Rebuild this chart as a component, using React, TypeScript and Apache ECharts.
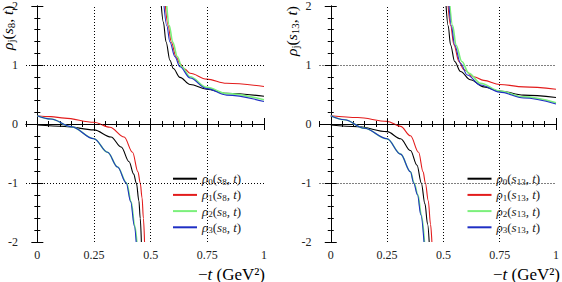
import React, { useEffect, useRef } from 'react';
import * as echarts from 'echarts';

// ---------- data ----------
const gridXLines = [0, 0.25, 0.5, 0.75];
const gridYLines = [-1, 0, 1];
const xTickLabels = [0, 0.25, 0.5, 0.75, 1];
const yTickLabels = [-2, -1, 0, 1, 2];

// panel 1 : s8
const s8Rho0Low = [[0, -0.017], [0.12, -0.04], [0.25, -0.1], [0.325, -0.22], [0.37, -0.39], [0.405, -0.64], [0.425, -0.85], [0.437, -1.0], [0.448, -1.3], [0.454, -1.6], [0.459, -2.0]];
const s8Rho1Low = [[0, 0.14], [0.06, 0.125], [0.12, 0.1], [0.25, 0.03], [0.32, -0.056], [0.383, -0.22], [0.42, -0.48], [0.444, -0.81], [0.454, -1.0], [0.462, -1.25], [0.468, -1.6], [0.473, -2.0]];
const s8Rho2Low = [[0, 0.14], [0.06, 0.084], [0.149, -0.045], [0.25, -0.25], [0.31, -0.48], [0.354, -0.73], [0.394, -1.0], [0.414, -1.32], [0.43, -1.73], [0.439, -2.0]];
const s8Rho3Low = [[0, 0.14], [0.06, 0.084], [0.149, -0.045], [0.25, -0.25], [0.31, -0.48], [0.354, -0.73], [0.392, -1.0], [0.412, -1.32], [0.428, -1.73], [0.436, -2.0]];
const s8Rho0Up = [[0.547, 2.0], [0.556, 1.73], [0.568, 1.39], [0.585, 1.08], [0.6, 0.94], [0.629, 0.79], [0.674, 0.67], [0.747, 0.59], [0.835, 0.52], [1, 0.47]];
const s8Rho1Up = [[0.565, 2.0], [0.577, 1.67], [0.591, 1.39], [0.612, 1.14], [0.63, 1.02], [0.65, 0.93], [0.674, 0.86], [0.747, 0.76], [0.835, 0.69], [1, 0.635]];
const s8Rho2Up = [[0.571, 2.0], [0.582, 1.67], [0.597, 1.39], [0.618, 1.14], [0.637, 0.97], [0.674, 0.8], [0.747, 0.62], [0.835, 0.515], [1, 0.41]];
const s8Rho3Up = [[0.559, 2.0], [0.571, 1.67], [0.585, 1.39], [0.607, 1.14], [0.629, 0.97], [0.674, 0.78], [0.747, 0.6], [0.835, 0.49], [1, 0.38]];

// panel 2 : s13
const s13Rho0Low = [[0, -0.017], [0.12, -0.045], [0.25, -0.13], [0.31, -0.25], [0.354, -0.45], [0.383, -0.7], [0.402, -1.0], [0.418, -1.35], [0.43, -1.7], [0.437, -2.0]];
const s13Rho1Low = [[0, 0.14], [0.12, 0.11], [0.25, 0.045], [0.31, -0.04], [0.354, -0.2], [0.39, -0.48], [0.41, -0.81], [0.42, -1.0], [0.433, -1.3], [0.443, -1.7], [0.449, -2.0]];
const s13Rho2Low = [[0, 0.14], [0.061, 0.073], [0.149, -0.073], [0.25, -0.25], [0.31, -0.51], [0.354, -0.81], [0.37, -1.0], [0.387, -1.2], [0.402, -1.54], [0.416, -2.0]];
const s13Rho3Low = [[0, 0.14], [0.061, 0.073], [0.149, -0.073], [0.25, -0.25], [0.31, -0.51], [0.354, -0.81], [0.368, -1.0], [0.385, -1.2], [0.4, -1.54], [0.414, -2.0]];
const s13Rho0Up = [[0.512, 2.0], [0.521, 1.67], [0.532, 1.34], [0.55, 1.06], [0.576, 0.89], [0.62, 0.75], [0.679, 0.63], [0.75, 0.56], [0.856, 0.49], [1, 0.45]];
const s13Rho1Up = [[0.521, 2.0], [0.532, 1.67], [0.547, 1.34], [0.569, 1.06], [0.591, 0.92], [0.635, 0.8], [0.679, 0.74], [0.75, 0.67], [0.856, 0.63], [1, 0.59]];
const s13Rho2Up = [[0.529, 2.0], [0.541, 1.67], [0.556, 1.34], [0.582, 1.06], [0.613, 0.86], [0.665, 0.69], [0.75, 0.56], [0.856, 0.46], [1, 0.36]];
const s13Rho3Up = [[0.525, 2.0], [0.535, 1.67], [0.55, 1.34], [0.576, 1.03], [0.606, 0.83], [0.665, 0.66], [0.75, 0.54], [0.856, 0.44], [1, 0.34]];

const seriesNames8 = ['r0_8', 'r1_8', 'r2_8', 'r3_8'];
const seriesNames13 = ['r0_13', 'r1_13', 'r2_13', 'r3_13'];
const legendLabels: Record<string, string> = {
  r0_8: '{i|ρ}{s|0}{n|(}{i|s}{s|8}{n|, }{i|t}{n|)}',
  r1_8: '{i|ρ}{s|1}{n|(}{i|s}{s|8}{n|, }{i|t}{n|)}',
  r2_8: '{i|ρ}{s|2}{n|(}{i|s}{s|8}{n|, }{i|t}{n|)}',
  r3_8: '{i|ρ}{s|3}{n|(}{i|s}{s|8}{n|, }{i|t}{n|)}',
  r0_13: '{i|ρ}{s|0}{n|(}{i|s}{s|13}{n|, }{i|t}{n|)}',
  r1_13: '{i|ρ}{s|1}{n|(}{i|s}{s|13}{n|, }{i|t}{n|)}',
  r2_13: '{i|ρ}{s|2}{n|(}{i|s}{s|13}{n|, }{i|t}{n|)}',
  r3_13: '{i|ρ}{s|3}{n|(}{i|s}{s|13}{n|, }{i|t}{n|)}',
};

const colors = ['#000000', '#e31c1c', '#7cf07c', '#1f2fc4'];
const widths = [1.1, 1.1, 1.6, 1.1];

const FONT = 'Times New Roman';

function buildPanel(p: number, lows: number[][][], ups: number[][][], names: string[]) {
  const xi = p * 4;
  const yi = p * 4;
  const series: any[] = [];
  for (let j = 0; j < 4; j++) {
    [lows[j], ups[j]].forEach((d, k) => {
      const s: any = {
        type: 'line',
        name: names[j],
        xAxisIndex: xi,
        yAxisIndex: yi,
        data: d,
        smooth: 0.35,
        smoothMonotone: 'x',
        symbol: 'none',
        showSymbol: false,
        clip: true,
        z: 3 + j,
        lineStyle: { color: colors[j], width: widths[j] },
        itemStyle: { color: colors[j] },
      };
      if (j === 0 && k === 0) {
        s.markLine = {
          silent: true,
          symbol: ['none', 'none'],
          label: { show: false },
          animation: false,
          lineStyle: { color: '#000', width: 1, type: [1, 2] },
          emphasis: { disabled: true },
          data: [
            ...gridXLines.map((v) => ({ xAxis: v })),
            ...gridYLines.map((v) => ({ yAxis: v })),
          ],
        };
      }
      series.push(s);
    });
  }
  return series;
}

const xFmt = (v: number) => {
  const r = Math.round(v * 4);
  if (Math.abs(v * 4 - r) > 1e-6) return '';
  const val = r / 4;
  return xTickLabels.includes(val) ? String(val) : '';
};
const yFmt = (v: number) => {
  const r = Math.round(v);
  if (Math.abs(v - r) > 1e-6) return '';
  return yTickLabels.includes(r) ? String(r) : '';
};

function axesFor(p: number) {
  const xs: any[] = [];
  const ys: any[] = [];
  const lineStyle = { color: '#000', width: 1 };
  const base = { type: 'value', gridIndex: p, min: -0.05, max: 1, splitLine: { show: false } };
  xs.push({ ...base, position: 'bottom', interval: 0.05, axisLine: { show: true, lineStyle }, axisTick: { show: true, inside: true, length: 3, lineStyle }, axisLabel: { show: true, formatter: xFmt, margin: 7, color: '#222', fontFamily: FONT, fontSize: 12 } });
  xs.push({ ...base, position: 'top', interval: 0.05, axisLine: { show: true, lineStyle }, axisTick: { show: true, inside: true, length: 3, lineStyle }, axisLabel: { show: false } });
  xs.push({ ...base, position: 'bottom', axisLine: { show: false }, axisTick: { show: true, inside: true, length: 6, lineStyle, customValues: xTickLabels }, axisLabel: { show: false } });
  xs.push({ ...base, position: 'top', axisLine: { show: false }, axisTick: { show: true, inside: true, length: 6, lineStyle, customValues: xTickLabels }, axisLabel: { show: false } });
  const yb = { type: 'value', gridIndex: p, min: -2, max: 2, splitLine: { show: false } };
  ys.push({ ...yb, position: 'left', interval: 0.2, axisLine: { show: true, lineStyle }, axisTick: { show: true, inside: true, length: 3, lineStyle }, axisLabel: { show: true, formatter: yFmt, margin: 8, color: '#222', fontFamily: FONT, fontSize: 12 } });
  ys.push({ ...yb, position: 'right', interval: 0.2, axisLine: { show: true, lineStyle }, axisTick: { show: true, inside: true, length: 3, lineStyle }, axisLabel: { show: false } });
  ys.push({ ...yb, position: 'left', interval: 1, axisLine: { show: false }, axisTick: { show: true, inside: true, length: 6, lineStyle }, axisLabel: { show: false } });
  ys.push({ ...yb, position: 'right', interval: 1, axisLine: { show: false }, axisTick: { show: true, inside: true, length: 6, lineStyle }, axisLabel: { show: false } });
  return { xs, ys };
}

const legendRich = {
  i: { fontFamily: FONT, fontStyle: 'italic', fontSize: 13, lineHeight: 15, color: '#222' },
  n: { fontFamily: FONT, fontSize: 13, lineHeight: 15, color: '#222' },
  s: { fontFamily: FONT, fontSize: 9, lineHeight: 8, verticalAlign: 'bottom', color: '#222' },
};
const titleRich = {
  i: { fontFamily: FONT, fontStyle: 'italic', fontSize: 15.5, lineHeight: 18, color: '#222' },
  n: { fontFamily: FONT, fontSize: 15.5, lineHeight: 18, color: '#222' },
  s: { fontFamily: FONT, fontSize: 11, lineHeight: 10, verticalAlign: 'bottom', color: '#222' },
};
const xTitleRich = {
  i: { fontFamily: FONT, fontStyle: 'italic', fontSize: 17, lineHeight: 20, color: '#222' },
  n: { fontFamily: FONT, fontSize: 17, lineHeight: 20, color: '#222' },
};

export default function App() {
  const ref = useRef<HTMLDivElement>(null);
  useEffect(() => {
    if (!ref.current) return;
    const chart = echarts.init(ref.current, undefined, { renderer: 'svg' });
    const a0 = axesFor(0);
    const a1 = axesFor(1);
    const legendBase = {
      orient: 'vertical',
      top: 167.2,
      itemWidth: 24,
      itemHeight: 15,
      itemGap: 2.2,
      selectedMode: false,
      itemStyle: { opacity: 0 },
      formatter: (name: string) => legendLabels[name],
      textStyle: { fontFamily: FONT, fontSize: 13, rich: legendRich },
    };
    const option: any = {
      animation: false,
      backgroundColor: '#fff',
      grid: [
        { left: 26, top: 4, width: 238, height: 238 },
        { left: 319.5, top: 4, width: 238, height: 238 },
      ],
      xAxis: [...a0.xs, ...a1.xs],
      yAxis: [...a0.ys, ...a1.ys],
      legend: [
        { ...legendBase, left: 167, data: seriesNames8 },
        { ...legendBase, left: 461.5, data: seriesNames13 },
      ],
      series: [
        ...buildPanel(0, [s8Rho0Low, s8Rho1Low, s8Rho2Low, s8Rho3Low], [s8Rho0Up, s8Rho1Up, s8Rho2Up, s8Rho3Up], seriesNames8),
        ...buildPanel(1, [s13Rho0Low, s13Rho1Low, s13Rho2Low, s13Rho3Low], [s13Rho0Up, s13Rho1Up, s13Rho2Up, s13Rho3Up], seriesNames13),
      ],
      graphic: [
        { type: 'text', x: 7, y: 50, rotation: Math.PI / 2, style: { text: '{i|ρ}{s|j}{n|(}{i|s}{s|8}{n|, }{i|t}{n|)}', rich: titleRich, align: 'left', verticalAlign: 'middle' } },
        { type: 'text', x: 291, y: 56, rotation: Math.PI / 2, style: { text: '{i|ρ}{s|j}{n|(}{i|s}{s|13}{n|, }{i|t}{n|)}', rich: titleRich, align: 'left', verticalAlign: 'middle' } },
        { type: 'text', x: 265, y: 274, style: { text: '{n|−}{i|t}{n| (GeV²)}', rich: xTitleRich, align: 'right', verticalAlign: 'middle' } },
        { type: 'text', x: 560, y: 274, style: { text: '{n|−}{i|t}{n| (GeV²)}', rich: xTitleRich, align: 'right', verticalAlign: 'middle' } },
      ],
    };
    chart.setOption(option);
    return () => chart.dispose();
  }, []);
  return <div ref={ref} style={{ width: 562, height: 282, position: 'absolute', left: 0, top: 0 }} />;
}
